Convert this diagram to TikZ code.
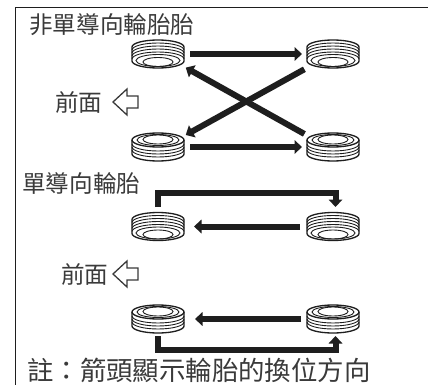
\documentclass[tikz,border=0pt]{standalone}
\usepackage{fontspec}
\setmainfont{Noto Sans CJK TC}
\usetikzlibrary{arrows.meta}
\definecolor{ink}{HTML}{1E1E1E}
\definecolor{txt}{HTML}{3A3A3A}
\tikzset{
  tyre/.style={minimum width=52pt,minimum height=28pt,inner sep=0pt,outer sep=0pt},
  swap/.style={line width=6pt,draw=ink,line cap=butt,-{Triangle[length=7.5pt,width=13.5pt]}},
  lbl/.style={inner sep=0pt,text=txt,font=\fontsize{23.6}{26}\selectfont},
  note/.style={inner sep=0pt,text=txt,font=\fontsize{26.4}{29}\selectfont},
  frontarrow/.style={draw=txt,line width=1.3pt,fill=white,line join=miter},
  tline/.style={draw=ink,line width=.9pt},
  touter/.style={draw=ink,line width=1.3pt}
}
% tyre seen with its opening at the bottom
\newcommand{\tyredown}[1]{%
  \begin{scope}[shift={(#1)}]
    \fill[white] (-26,-7) arc[x radius=26,y radius=7,start angle=180,end angle=360] -- (26,7) arc[x radius=26,y radius=7,start angle=0,end angle=180] -- cycle;
    \foreach \d in {-4,-1,2,5}{\draw[tline] (-26,\d) arc[x radius=26,y radius=7,start angle=180,end angle=360];}
    \fill[white] (0,7) ellipse[x radius=25,y radius=6.5];
    \draw[tline] (0,6.5) ellipse[x radius=22,y radius=6];
    \draw[tline] (0,8) ellipse[x radius=15,y radius=4.5];
    \draw[touter] (-26,-7) arc[x radius=26,y radius=7,start angle=180,end angle=360] -- (26,7) arc[x radius=26,y radius=7,start angle=0,end angle=180] -- cycle;
  \end{scope}}
% tyre seen with its opening at the top
\newcommand{\tyreup}[1]{%
  \begin{scope}[shift={(#1)}]
    \fill[white] (-26,-7) arc[x radius=26,y radius=7,start angle=180,end angle=360] -- (26,7) arc[x radius=26,y radius=7,start angle=0,end angle=180] -- cycle;
    \foreach \d in {-3,0,3}{\draw[tline] (-26,\d) arc[x radius=26,y radius=7,start angle=180,end angle=0];}
    \draw[touter] (0,-7) ellipse[x radius=26,y radius=7];
    \draw[tline] (0,-7) ellipse[x radius=21,y radius=5.5];
    \draw[tline] (0,-7.5) ellipse[x radius=15,y radius=4.5];
    \draw[touter] (-26,-7) -- (-26,7) arc[x radius=26,y radius=7,start angle=180,end angle=0] -- (26,-7);
  \end{scope}}
\begin{document}
\begin{tikzpicture}[x=1pt,y=-1pt]
  \useasboundingbox (0,0) rectangle (428,385);
  \fill[white] (0,0) rectangle (428,385);
  \draw[ink,line width=.9pt] (428,7.5) -- (15.5,7.5) -- (15.5,385);

  \node[lbl,anchor=west] (t1) at (29,25) {非單導向輪胎胎};
  \node[lbl,anchor=west] (f1) at (55,102) {前面};
  \node[lbl,anchor=west] (t2) at (22,183) {單導向輪胎};
  \node[lbl,anchor=west] (f2) at (61,274) {前面};
  \node[note,anchor=west] (n) at (27,370) {註：箭頭顯示輪胎的換位方向};

  \node[tyre] (a) at (158,54) {};
  \node[tyre] (b) at (333,54) {};
  \node[tyre] (c) at (158,147) {};
  \node[tyre] (d) at (333,147) {};
  \node[tyre] (e) at (158,226.5) {};
  \node[tyre] (g) at (333,226.5) {};
  \node[tyre] (h) at (158,319) {};
  \node[tyre] (i) at (333,319) {};
  \tyredown{a} \tyredown{b} \tyreup{c} \tyreup{d}
  \tyredown{e} \tyredown{g} \tyreup{h} \tyreup{i}

  \draw[frontarrow] (113,102) -- (127,89) -- (127,96) -- (138,96) -- (138,108) -- (127,108) -- (127,115) -- cycle;
  \draw[frontarrow] (113,274) -- (127,261) -- (127,268) -- (138,268) -- (138,280) -- (127,280) -- (127,287) -- cycle;

  \draw[swap,shorten <=6pt,shorten >=5pt] (a.east) -- (b.west);
  \draw[swap,shorten <=6pt,shorten >=5pt] (c.east) -- (d.west);
  \draw[swap,shorten <=3pt,shorten >=2pt] (d.156.5) -- (a.-26.4);
  \draw[swap,shorten <=3pt,shorten >=2pt] (b.208) -- (c.23);
  \draw[swap,shorten <=7pt,shorten >=10pt] (g.west) -- (e.east);
  \draw[swap,shorten <=6pt,shorten >=11pt] (i.west) -- (h.east);
  \draw[swap,shorten <=5.5pt,shorten >=5.5pt] (e.north) -- ++(0,-20) -| ([xshift=2.5pt]g.north);
  \draw[swap,shorten <=3pt,shorten >=3pt] (h.south) -- ++(0,17) -| ([xshift=2.5pt]i.south);
\end{tikzpicture}
\end{document}
